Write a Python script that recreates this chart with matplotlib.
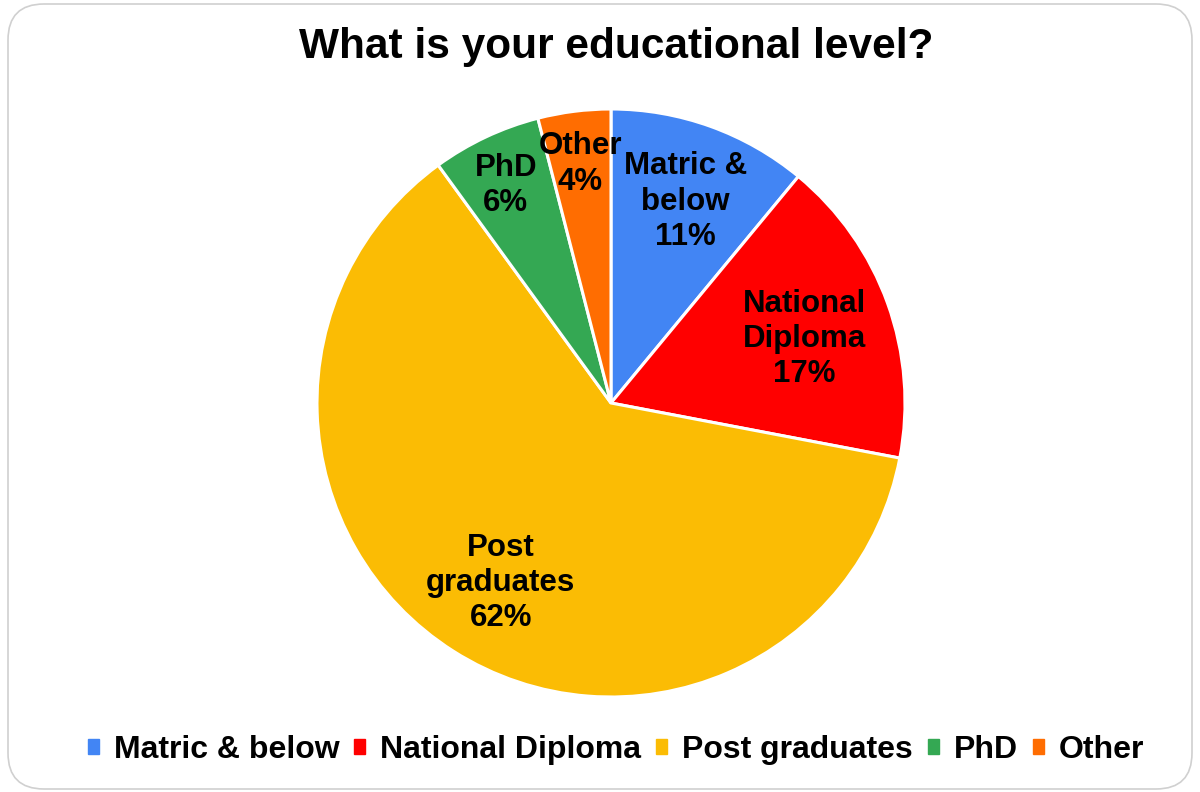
import numpy as np
import matplotlib
matplotlib.use("Agg")
import matplotlib.pyplot as plt
from matplotlib.patches import FancyBboxPatch
from matplotlib.transforms import offset_copy

# ============== DATA ==============
categories = ["Matric & below", "National Diploma", "Post graduates", "PhD", "Other"]
label_text = ["Matric &\nbelow", "National\nDiploma", "Post\ngraduates", "PhD", "Other"]
percents   = [11, 17, 62, 6, 4]
colors     = ["#4285F4", "#FF0000", "#FBBC04", "#34A853", "#FF6D01"]
# ==================================

plt.rcParams["font.family"] = ["Liberation Sans", "DejaVu Sans"]

W, H = 1200, 792
fig = plt.figure(figsize=(W / 100, H / 100), dpi=100)

# rounded card outline (no fill so the pie stays visible)
card = FancyBboxPatch((8 / W, 3 / H), (1192 - 8) / W, (788 - 3) / H,
                      boxstyle="round,pad=0,rounding_size=0.03",
                      transform=fig.transFigure, facecolor="none",
                      edgecolor="#d0d0d0", linewidth=1.2, mutation_aspect=W / H)
fig.patches.append(card)

fig.text(616 / W, 1 - 47 / H, "What is your educational level?",
         ha="center", va="center", fontsize=30.5, fontweight="bold")

# pie centre (611, 403), radius 294 px
cx, cy, r = 611, 403, 294
ax = fig.add_axes([(cx - r) / W, (H - cy - r) / H, 2 * r / W, 2 * r / H])
wedges, _ = ax.pie(percents, colors=colors, startangle=90, counterclock=False,
                   radius=1.0, wedgeprops=dict(edgecolor="white", linewidth=2.2))
ax.set_xlim(-1, 1)
ax.set_ylim(-1, 1)
ax.set_aspect("equal")
ax.axis("off")

# radial position of each slice label, nudged a few px down
label_r = [0.75, 0.70, 0.70, 0.84, 0.84]
lbl_tr = offset_copy(ax.transData, fig=fig, x=0, y=-6, units="dots")
for w, txt, p, lr in zip(wedges, label_text, percents, label_r):
    ang = np.deg2rad((w.theta1 + w.theta2) / 2)
    ax.text(lr * np.cos(ang), lr * np.sin(ang), f"{txt}\n{p}%",
            ha="center", va="center", fontsize=22.5, fontweight="bold",
            linespacing=1.22, transform=lbl_tr)

handles = [plt.Rectangle((0, 0), 1, 1, color=c) for c in colors]
fig.legend(handles, categories, loc="center", bbox_to_anchor=(616 / W, 1 - 750 / H),
           ncol=5, frameon=False, prop=dict(size=23, weight="bold"),
           handlelength=0.34, handleheight=0.34, handletextpad=0.47,
           columnspacing=0.47)

fig.savefig("out.png", dpi=100, facecolor="white")
